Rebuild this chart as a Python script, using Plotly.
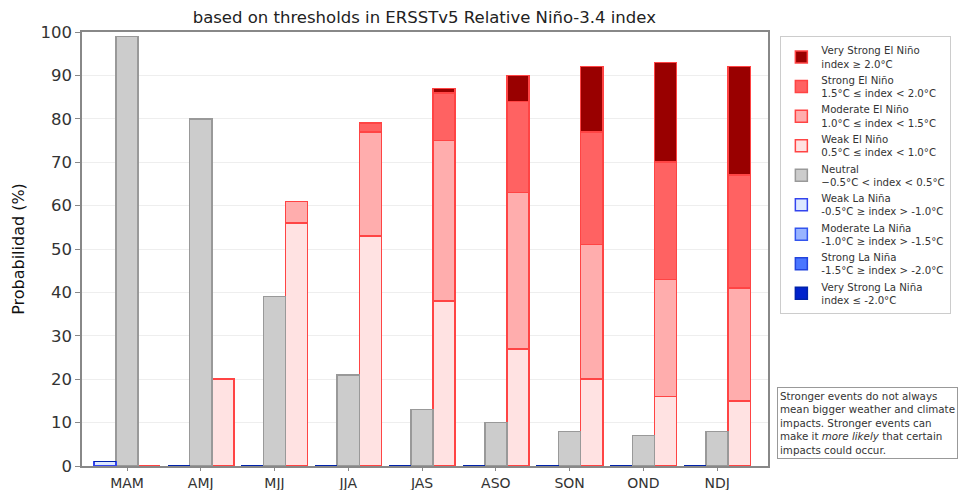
import plotly.graph_objects as go

seasons = ["MAM", "AMJ", "MJJ", "JJA", "JAS", "ASO", "SON", "OND", "NDJ"]

# La Niña categories (%)
weak_la = [1, 0, 0, 0, 0, 0, 0, 0, 0]
moderate_la = [0, 0, 0, 0, 0, 0, 0, 0, 0]
strong_la = [0, 0, 0, 0, 0, 0, 0, 0, 0]
very_strong_la = [0, 0, 0, 0, 0, 0, 0, 0, 0]

# Neutral (%)
neutral = [99, 80, 39, 21, 13, 10, 8, 7, 8]

# El Niño categories (%)
weak_el = [0, 20, 56, 53, 38, 27, 20, 16, 15]
moderate_el = [0, 0, 5, 24, 37, 36, 31, 27, 26]
strong_el = [0, 0, 0, 2, 11, 21, 26, 27, 26]
very_strong_el = [0, 0, 0, 0, 1, 6, 15, 23, 25]

idx = list(range(len(seasons)))
off = 0.3
x_la = [i - off for i in idx]
x_ne = idx
x_el = [i + off for i in idx]

fig = go.Figure()

def add(name, x, y, fill, edge, rank):
    fig.add_trace(go.Bar(
        x=x, y=y, width=0.3, name=name,
        marker=dict(color=fill, line=dict(color=edge, width=1.5)),
        legendrank=rank,
    ))

# El Niño stack (bottom to top)
add("Weak El Niño<br>0.5°C ≤ index < 1.0°C", x_el, weak_el, "#ffe2e2", "#ff4444", 4)
add("Moderate El Niño<br>1.0°C ≤ index < 1.5°C", x_el, moderate_el, "#ffadad", "#ff4444", 3)
add("Strong El Niño<br>1.5°C ≤ index < 2.0°C", x_el, strong_el, "#ff6262", "#ff4444", 2)
add("Very Strong El Niño<br>index ≥ 2.0°C", x_el, very_strong_el, "#990000", "#ff4444", 1)
# Neutral
add("Neutral<br>−0.5°C < index < 0.5°C", x_ne, neutral, "#cccccc", "#999999", 5)
# La Niña stack
add("Weak La Niña<br>-0.5°C ≥ index > -1.0°C", x_la, weak_la, "#dde8ff", "#3344ee", 6)
add("Moderate La Niña<br>-1.0°C ≥ index > -1.5°C", x_la, moderate_la, "#99b4ff", "#3355ee", 7)
add("Strong La Niña<br>-1.5°C ≥ index > -2.0°C", x_la, strong_la, "#4a76ff", "#2244dd", 8)
add("Very Strong La Niña<br>index ≤ -2.0°C", x_la, very_strong_la, "#0022cc", "#0022aa", 9)

fig.update_layout(
    width=960, height=490,
    barmode="stack",
    plot_bgcolor="white", paper_bgcolor="white",
    margin=dict(l=82, r=192, t=32, b=24, autoexpand=False),
    font=dict(family="DejaVu Sans", color="#333333"),
    title=dict(text="based on thresholds in ERSSTv5 Relative Niño-3.4 index",
               x=0.442, xanchor="center", y=0.965, yanchor="middle",
               font=dict(size=16.5, color="#222222")),
    legend=dict(x=1.018, xanchor="left", y=0.99, yanchor="top",
                bordercolor="#cccccc", borderwidth=1,
                font=dict(size=10.2, color="#333333"),
                tracegroupgap=0, itemwidth=30, traceorder="normal"),
    showlegend=True,
)

fig.update_xaxes(
    range=[-0.61, 8.69], automargin=False,
    tickvals=idx, ticktext=seasons,
    tickfont=dict(size=14, color="#333333"),
    showgrid=False, zeroline=False,
    showline=True, linecolor="#888888", linewidth=1.5, mirror=True,
    ticks="outside", ticklen=3, tickcolor="#888888",
)
fig.update_yaxes(
    range=[0, 100], dtick=10, automargin=False,
    tickfont=dict(size=16.5, color="#333333"),
    showgrid=True, gridcolor="#eeeeee", zeroline=False,
    showline=True, linecolor="#888888", linewidth=1.5, mirror=True,
    ticks="outside", ticklen=5, tickcolor="#888888",
    title=dict(text="Probabilidad (%)", font=dict(size=16, color="#111111"), standoff=12),
)

fig.add_annotation(
    xref="paper", yref="paper", x=1.013, xanchor="left", y=0.015, yanchor="bottom",
    text="Stronger events do not always<br>mean bigger weather and climate<br>impacts. Stronger events can<br>make it <i>more likely</i> that certain<br>impacts could occur.",
    showarrow=False, align="left",
    font=dict(size=10.3, color="#333333"),
    bordercolor="#999999", borderwidth=1, borderpad=2, bgcolor="white",
)

fig.write_html("out.html", config={"displayModeBar": False},
               post_script="document.body.style.margin='0';")
